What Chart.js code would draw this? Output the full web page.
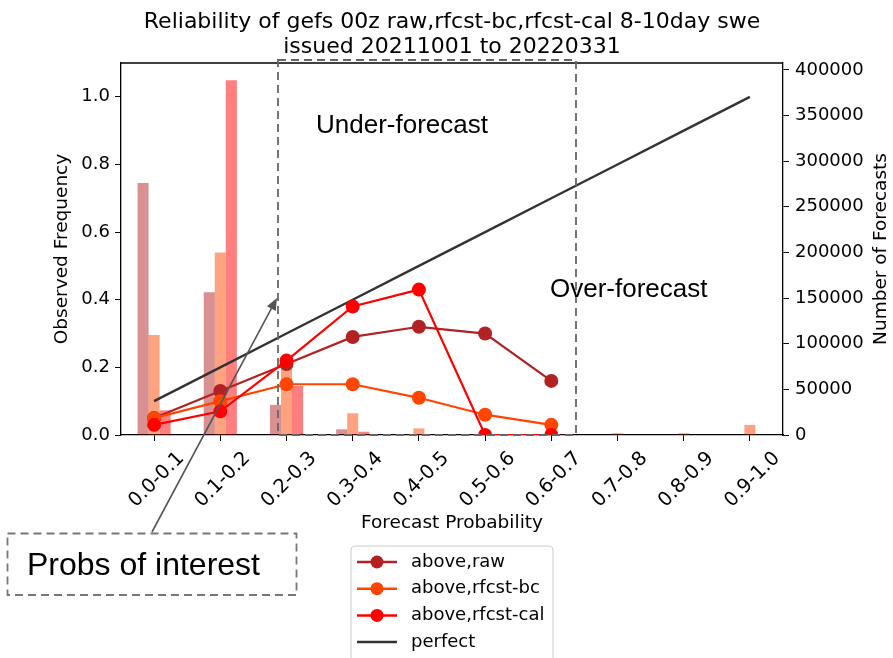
<!DOCTYPE html>
<html>
<head>
<meta charset="utf-8">
<script src="https://cdn.jsdelivr.net/npm/chart.js@4.4.0/dist/chart.umd.min.js"></script>
<style>
  body { margin: 0; background: #fff; }
  canvas { display: block; }
</style>
</head>
<body>
<canvas id="reliabilityChart" width="893" height="658"></canvas>
<script>
const categories = ["0.0-0.1", "0.1-0.2", "0.2-0.3", "0.3-0.4", "0.4-0.5",
                    "0.5-0.6", "0.6-0.7", "0.7-0.8", "0.8-0.9", "0.9-1.0"];

// observed frequency (left axis)
const freqRaw = [0.05, 0.13, 0.21, 0.29, 0.32, 0.30, 0.16, null, null, null];
const freqBc = [0.05, 0.10, 0.15, 0.15, 0.11, 0.06, 0.03, null, null, null];
const freqCal = [0.03, 0.07, 0.22, 0.38, 0.43, 0.0, 0.0, null, null, null];
const perfect = [0.1, 0.2, 0.3, 0.4, 0.5, 0.6, 0.7, 0.8, 0.9, 1.0];

// number of forecasts (right axis)
const countRaw = [276000, 156500, 33000, 6200, 800, 300, 200, 0, 0, 0];
const countBc = [109500, 200000, 75000, 23800, 7300, 1500, 1000, 2000, 2000, 11000];
const countCal = [27000, 388500, 53700, 3600, 600, 200, 100, 0, 0, 0];

const leftTicks = [0.0, 0.2, 0.4, 0.6, 0.8, 1.0];
const rightTicks = [0, 50000, 100000, 150000, 200000, 250000, 300000, 350000, 400000];

const titleLines = ["Reliability of gefs 00z raw,rfcst-bc,rfcst-cal 8-10day swe",
                    "issued 20211001 to 20220331"];

document.addEventListener("DOMContentLoaded", function () {
  const ctx = document.getElementById("reliabilityChart").getContext("2d");
  Chart.defaults.font.family = "'DejaVu Sans', sans-serif";
  Chart.defaults.font.size = 18;
  Chart.defaults.color = "#000";

  const lineDs = (label, data, color, order) => ({
    type: "line", label: label, data: data, yAxisID: "y",
    borderColor: color, backgroundColor: color, borderWidth: 2.2,
    pointRadius: 7, pointHoverRadius: 7, pointBorderWidth: 0,
    spanGaps: false, order: order,
  });
  const barDs = (data, color) => ({
    type: "bar", data: data, yAxisID: "y1",
    backgroundColor: color, borderWidth: 0, order: 10,
    categoryPercentage: 0.5, barPercentage: 1.0,
  });

  const annotations = {
    id: "annotations",
    afterDraw(chart) {
      const c = chart.ctx;
      const area = chart.chartArea;
      c.save();
      // top spine
      c.strokeStyle = "#000"; c.lineWidth = 1.3;
      c.beginPath(); c.moveTo(area.left, area.top); c.lineTo(area.right, area.top); c.stroke();

      // title
      c.fillStyle = "#000";
      c.textAlign = "center"; c.textBaseline = "alphabetic";
      c.font = "22px 'DejaVu Sans'";
      const cx = (area.left + area.right) / 2;
      c.fillText(titleLines[0], cx, 28);
      c.fillText(titleLines[1], cx, 53);

      // axis titles
      c.font = "18.5px 'DejaVu Sans'";
      c.fillText("Forecast Probability", cx, 528);
      const cy = (area.top + area.bottom) / 2;
      c.save(); c.translate(62, cy); c.rotate(-Math.PI / 2);
      c.textBaseline = "middle"; c.fillText("Observed Frequency", 0, 0); c.restore();
      c.save(); c.translate(881, cy); c.rotate(-Math.PI / 2);
      c.textBaseline = "middle"; c.fillText("Number of Forecasts", 0, 0); c.restore();

      // probs-of-interest box over the plot
      c.strokeStyle = "#666"; c.lineWidth = 1.8; c.setLineDash([8, 5]);
      c.strokeRect(278, 60, 298, area.bottom - 60);
      c.strokeStyle = "#777";
      c.strokeRect(7.5, 533.5, 289, 61.5);
      c.setLineDash([]);

      // arrow
      c.strokeStyle = "#555"; c.fillStyle = "#555"; c.lineWidth = 1.6;
      const x0 = 152, y0 = 532, x1 = 277, y1 = 298;
      const ang = Math.atan2(y1 - y0, x1 - x0);
      c.beginPath(); c.moveTo(x0, y0);
      c.lineTo(x1 - 9 * Math.cos(ang), y1 - 9 * Math.sin(ang)); c.stroke();
      c.beginPath(); c.moveTo(x1, y1);
      c.lineTo(x1 - 12 * Math.cos(ang) + 5 * Math.sin(ang), y1 - 12 * Math.sin(ang) - 5 * Math.cos(ang));
      c.lineTo(x1 - 12 * Math.cos(ang) - 5 * Math.sin(ang), y1 - 12 * Math.sin(ang) + 5 * Math.cos(ang));
      c.closePath(); c.fill();

      // text notes
      c.fillStyle = "#000"; c.textAlign = "left";
      c.font = "26px 'Liberation Sans', Arial";
      c.fillText("Under-forecast", 316, 133);
      c.fillText("Over-forecast", 550, 297);
      c.font = "32px 'Liberation Sans', Arial";
      c.fillText("Probs of interest", 27, 575);

      // legend
      const lx = 351, ly = 546;
      c.fillStyle = "rgba(255,255,255,0.8)";
      c.strokeStyle = "#ccc"; c.lineWidth = 1;
      c.beginPath();
      c.roundRect(lx, ly, 202, 130, 4);
      c.fill(); c.stroke();
      const items = chart.data.datasets.filter(d => d.type === "line");
      c.font = "18px 'DejaVu Sans'";
      c.textBaseline = "middle";
      items.forEach((d, i) => {
        const y = 562 + i * 26.7;
        c.strokeStyle = d.borderColor; c.lineWidth = 2.5;
        c.beginPath(); c.moveTo(357, y); c.lineTo(397, y); c.stroke();
        if (d.pointRadius > 0) {
          c.fillStyle = d.borderColor;
          c.beginPath(); c.arc(377, y, 6.5, 0, Math.PI * 2); c.fill();
        }
        c.fillStyle = "#000";
        c.fillText(d.label, 411, y);
      });
      c.restore();
    },
  };

  new Chart(ctx, {
    data: {
      labels: categories,
      datasets: [
        lineDs("above,raw", freqRaw, "#b22222", 2),
        lineDs("above,rfcst-bc", freqBc, "#ff4500", 1),
        lineDs("above,rfcst-cal", freqCal, "#ff0000", 0),
        Object.assign(lineDs("perfect", perfect, "#333333", 3), { pointRadius: 0, pointHoverRadius: 0, borderWidth: 2.4 }),
        barDs(countRaw, "rgba(178,34,34,0.5)"),
        barDs(countBc, "rgba(255,69,0,0.5)"),
        barDs(countCal, "rgba(255,0,0,0.5)"),
      ],
    },
    options: {
      responsive: false,
      animation: false,
      devicePixelRatio: 1,
      layout: { padding: { top: 63, left: 0, right: 0, bottom: 0 } },
      plugins: {
        legend: { display: false },
        title: { display: false },
        tooltip: { enabled: false },
      },
      scales: {
        x: {
          type: "category",
          offset: true,
          grid: { offset: false, drawOnChartArea: false, tickLength: 6, tickColor: "#000" },
          border: { color: "#000", width: 1.3 },
          ticks: { minRotation: 45, maxRotation: 45, padding: 6, labelOffset: 27, font: { size: 19.5 } },
          afterFit: (s) => { s.height = 223; },
        },
        y: {
          position: "left",
          min: 0, max: 1.1,
          afterBuildTicks: (s) => { s.ticks = leftTicks.map(v => ({ value: v })); },
          ticks: { padding: 5, callback: (v) => v.toFixed(1) },
          grid: { drawOnChartArea: false, tickLength: 6, tickColor: "#000" },
          border: { color: "#000", width: 1.3 },
          afterFit: (s) => { s.width = 121; },
        },
        y1: {
          position: "right",
          min: 0, max: 407500,
          afterBuildTicks: (s) => { s.ticks = rightTicks.map(v => ({ value: v })); },
          ticks: { padding: 6, callback: (v) => String(v) },
          grid: { drawOnChartArea: false, tickLength: 6, tickColor: "#000" },
          border: { color: "#000", width: 1.3 },
          afterFit: (s) => { s.width = 110; },
        },
      },
    },
    plugins: [annotations],
  });
});
</script>
</body>
</html>
